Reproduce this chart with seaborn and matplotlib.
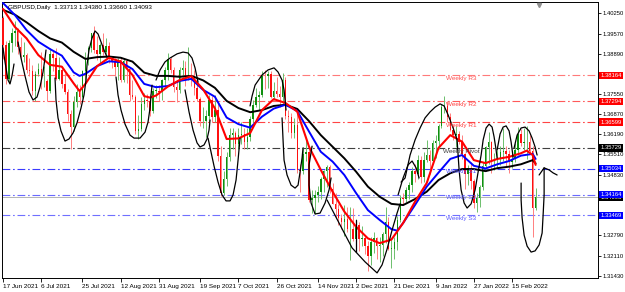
import numpy as np
import pandas as pd
import matplotlib
matplotlib.use("Agg")
import matplotlib.pyplot as plt
import matplotlib.transforms as mtransforms
import seaborn as sns

# ---------------- data ----------------
title_text = "GBPUSD,Daily  1.33713 1.34380 1.33660 1.34093"
dates = pd.bdate_range("2021-06-17", "2022-02-25")

opens = [1.4010, 1.3918, 1.3803, 1.3925, 1.3960, 1.3965, 1.3912, 1.3878, 1.3885, 1.3834,
         1.3830, 1.3763, 1.3822, 1.3837, 1.3797, 1.3799, 1.3765, 1.3890, 1.3875, 1.3805,
         1.3834, 1.3789, 1.3760, 1.3687, 1.3642, 1.3728, 1.3762, 1.3745, 1.3832, 1.3869,
         1.3910, 1.3958, 1.3903, 1.3889, 1.3918, 1.3896, 1.3916, 1.3873, 1.3863, 1.3845,
         1.3868, 1.3800, 1.3866, 1.3837, 1.3752, 1.3743, 1.3630, 1.3636, 1.3722, 1.3735,
         1.3731, 1.3696, 1.3763, 1.3763, 1.3760, 1.3801, 1.3836, 1.3871, 1.3836, 1.3777,
         1.3766, 1.3836, 1.3842, 1.3814, 1.3818, 1.3804, 1.3775, 1.3738, 1.3663, 1.3665,
         1.3680, 1.3733, 1.3677, 1.3700, 1.3547, 1.3420, 1.3470, 1.3542, 1.3616, 1.3622,
         1.3587, 1.3615, 1.3619, 1.3593, 1.3610, 1.3670, 1.3718, 1.3743, 1.3750, 1.3815,
         1.3814, 1.3820, 1.3745, 1.3764, 1.3753, 1.3744, 1.3802, 1.3681, 1.3678, 1.3624,
         1.3650, 1.3498, 1.3495, 1.3552, 1.3560, 1.3399, 1.3405, 1.3415, 1.3425, 1.3467,
         1.3494, 1.3509, 1.3435, 1.3386, 1.3367, 1.3339, 1.3323, 1.3335, 1.3299, 1.3299,
         1.3267, 1.3313, 1.3266, 1.3271, 1.3242, 1.3209, 1.3258, 1.3269, 1.3243, 1.3246,
         1.3284, 1.3325, 1.3233, 1.3233, 1.3258, 1.3330, 1.3406, 1.3402, 1.3430, 1.3450,
         1.3497, 1.3485, 1.3532, 1.3475, 1.3533, 1.3550, 1.3530, 1.3590, 1.3597, 1.3648,
         1.3711, 1.3715, 1.3677, 1.3634, 1.3618, 1.3620, 1.3594, 1.3553, 1.3485, 1.3504,
         1.3463, 1.3387, 1.3405, 1.3443, 1.3512, 1.3577, 1.3592, 1.3530, 1.3532, 1.3538,
         1.3559, 1.3563, 1.3554, 1.3527, 1.3537, 1.3565, 1.3621, 1.3590, 1.3593, 1.3594,
         1.3564, 1.33713]
highs = [1.4015, 1.3932, 1.3935, 1.3975, 1.4000, 1.3976, 1.3945, 1.3928, 1.3891, 1.3875,
         1.3850, 1.3830, 1.3860, 1.3895, 1.3848, 1.3804, 1.3908, 1.3898, 1.3910, 1.3878,
         1.3840, 1.3825, 1.3772, 1.3700, 1.3748, 1.3788, 1.3784, 1.3835, 1.3895, 1.3915,
         1.3960, 1.3983, 1.3950, 1.3926, 1.3958, 1.3944, 1.3928, 1.3883, 1.3875, 1.3875,
         1.3878, 1.3875, 1.3868, 1.3840, 1.3800, 1.3752, 1.3685, 1.3745, 1.3758, 1.3755,
         1.3755, 1.3775, 1.3785, 1.3785, 1.3805, 1.3845, 1.3891, 1.3880, 1.3845, 1.3800,
         1.3845, 1.3867, 1.3865, 1.3913, 1.3858, 1.3835, 1.3790, 1.3745, 1.3710, 1.3700,
         1.3750, 1.3748, 1.3750, 1.3725, 1.3580, 1.3495, 1.3560, 1.3640, 1.3640, 1.3630,
         1.3640, 1.3660, 1.3640, 1.3640, 1.3680, 1.3735, 1.3775, 1.3765, 1.3830, 1.3834,
         1.3830, 1.3830, 1.3795, 1.3810, 1.3780, 1.3825, 1.3810, 1.3700, 1.3690, 1.3675,
         1.3695, 1.3520, 1.3575, 1.3607, 1.3575, 1.3430, 1.3430, 1.3445, 1.3475, 1.3500,
         1.3515, 1.3515, 1.3455, 1.3420, 1.3385, 1.3350, 1.3380, 1.3375, 1.3375, 1.3370,
         1.3335, 1.3325, 1.3310, 1.3282, 1.3260, 1.3275, 1.3290, 1.3275, 1.3275, 1.3290,
         1.3375, 1.3340, 1.3270, 1.3275, 1.3345, 1.3415, 1.3420, 1.3440, 1.3460, 1.3510,
         1.3520, 1.3550, 1.3545, 1.3560, 1.3600, 1.3565, 1.3600, 1.3615, 1.3655, 1.3720,
         1.3749, 1.3730, 1.3690, 1.3650, 1.3645, 1.3630, 1.3615, 1.3555, 1.3515, 1.3525,
         1.3470, 1.3420, 1.3450, 1.3525, 1.3580, 1.3628, 1.3595, 1.3557, 1.3565, 1.3580,
         1.3640, 1.3580, 1.3565, 1.3555, 1.3590, 1.3644, 1.3635, 1.3640, 1.3645, 1.3615,
         1.3580, 1.34380]
lows = [1.3871, 1.3787, 1.3792, 1.3895, 1.3915, 1.3888, 1.3873, 1.3862, 1.3825, 1.3813,
        1.3750, 1.3731, 1.3815, 1.3770, 1.3778, 1.3730, 1.3757, 1.3830, 1.3800, 1.3800,
        1.3775, 1.3754, 1.3662, 1.3571, 1.3630, 1.3710, 1.3720, 1.3740, 1.3800, 1.3850,
        1.3895, 1.3893, 1.3870, 1.3860, 1.3885, 1.3880, 1.3860, 1.3842, 1.3814, 1.3802,
        1.3795, 1.3793, 1.3790, 1.3730, 1.3737, 1.3620, 1.3602, 1.3630, 1.3700, 1.3710,
        1.3680, 1.3690, 1.3740, 1.3730, 1.3735, 1.3780, 1.3800, 1.3825, 1.3760, 1.3727,
        1.3756, 1.3810, 1.3780, 1.3800, 1.3780, 1.3750, 1.3730, 1.3647, 1.3640, 1.3610,
        1.3660, 1.3660, 1.3660, 1.3530, 1.3412, 1.3415, 1.3445, 1.3530, 1.3570, 1.3545,
        1.3570, 1.3585, 1.3570, 1.3570, 1.3595, 1.3660, 1.3710, 1.3700, 1.3745, 1.3770,
        1.3775, 1.3740, 1.3735, 1.3745, 1.3710, 1.3720, 1.3670, 1.3625, 1.3605, 1.3605,
        1.3490, 1.3424, 1.3485, 1.3530, 1.3390, 1.3355, 1.3352, 1.3390, 1.3400, 1.3425,
        1.3440, 1.3420, 1.3385, 1.3342, 1.3315, 1.3300, 1.3278, 1.3290, 1.3195, 1.3260,
        1.3255, 1.3225, 1.3245, 1.3215, 1.3160, 1.3180, 1.3220, 1.3200, 1.3190, 1.3210,
        1.3255, 1.3230, 1.3170, 1.3200, 1.3230, 1.3325, 1.3385, 1.3390, 1.3400, 1.3425,
        1.3460, 1.3470, 1.3455, 1.3460, 1.3525, 1.3485, 1.3520, 1.3540, 1.3570, 1.3640,
        1.3690, 1.3660, 1.3630, 1.3600, 1.3575, 1.3585, 1.3535, 1.3435, 1.3450, 1.3435,
        1.3370, 1.3358, 1.3375, 1.3430, 1.3495, 1.3520, 1.3490, 1.3500, 1.3510, 1.3515,
        1.3530, 1.3510, 1.3490, 1.3505, 1.3525, 1.3550, 1.3580, 1.3565, 1.3535, 1.3560,
        1.3272, 1.33660]
closes = [1.3920, 1.3803, 1.3925, 1.3960, 1.3965, 1.3912, 1.3878, 1.3885, 1.3834, 1.3830,
          1.3763, 1.3822, 1.3837, 1.3797, 1.3799, 1.3765, 1.3890, 1.3875, 1.3805, 1.3834,
          1.3789, 1.3760, 1.3687, 1.3642, 1.3728, 1.3762, 1.3745, 1.3832, 1.3869, 1.3910,
          1.3958, 1.3903, 1.3889, 1.3918, 1.3896, 1.3916, 1.3873, 1.3863, 1.3845, 1.3868,
          1.3800, 1.3866, 1.3837, 1.3752, 1.3743, 1.3630, 1.3636, 1.3722, 1.3735, 1.3731,
          1.3696, 1.3763, 1.3766, 1.3760, 1.3801, 1.3836, 1.3871, 1.3836, 1.3777, 1.3766,
          1.3836, 1.3842, 1.3814, 1.3818, 1.3804, 1.3775, 1.3738, 1.3663, 1.3665, 1.3680,
          1.3733, 1.3677, 1.3700, 1.3547, 1.3420, 1.3470, 1.3542, 1.3616, 1.3622, 1.3587,
          1.3615, 1.3619, 1.3593, 1.3610, 1.3670, 1.3718, 1.3743, 1.3750, 1.3815, 1.3814,
          1.3820, 1.3745, 1.3764, 1.3753, 1.3744, 1.3802, 1.3681, 1.3678, 1.3624, 1.3650,
          1.3498, 1.3495, 1.3552, 1.3560, 1.3399, 1.3405, 1.3415, 1.3425, 1.3467, 1.3494,
          1.3509, 1.3435, 1.3386, 1.3367, 1.3339, 1.3323, 1.3335, 1.3299, 1.3302, 1.3267,
          1.3313, 1.3266, 1.3271, 1.3242, 1.3209, 1.3258, 1.3269, 1.3243, 1.3246, 1.3284,
          1.3325, 1.3233, 1.3236, 1.3258, 1.3330, 1.3406, 1.3402, 1.3430, 1.3450, 1.3497,
          1.3485, 1.3532, 1.3475, 1.3533, 1.3550, 1.3530, 1.3590, 1.3597, 1.3648, 1.3711,
          1.3715, 1.3677, 1.3634, 1.3618, 1.3620, 1.3594, 1.3553, 1.3485, 1.3504, 1.3463,
          1.3387, 1.3405, 1.3443, 1.3512, 1.3577, 1.3592, 1.3530, 1.3532, 1.3538, 1.3559,
          1.3563, 1.3554, 1.3527, 1.3537, 1.3565, 1.3621, 1.3590, 1.3593, 1.3594, 1.3564,
          1.3371, 1.34093]

# moving averages (bar index, value)
fast_ma_idx = [0, 4, 8, 12, 16, 20, 24, 26, 28, 32, 36, 40, 44, 48, 50, 52, 56, 60, 64, 68, 72, 76, 80, 84,
               88, 92, 96, 100, 104, 108, 112, 116, 120, 124, 128, 132, 136, 140, 144, 148, 152, 156, 160,
               164, 168, 172, 176, 178, 180, 181]
fast_ma = [1.4040, 1.3980, 1.3941, 1.3885, 1.3852, 1.3846, 1.3790, 1.3764, 1.3788, 1.3848, 1.3876, 1.3863,
           1.3818, 1.3747, 1.3742, 1.3749, 1.3779, 1.3801, 1.3814, 1.3770, 1.3706, 1.3603, 1.3605, 1.3623,
           1.3700, 1.3737, 1.3724, 1.3695, 1.3577, 1.3499, 1.3426, 1.3359, 1.3308, 1.3269, 1.3253, 1.3265,
           1.3321, 1.3392, 1.3455, 1.3573, 1.3616, 1.3594, 1.3532, 1.3522, 1.3536, 1.3543, 1.3555, 1.3564,
           1.3549, 1.3516]
mid_ma_idx = [0, 4, 8, 12, 16, 20, 24, 26, 28, 32, 36, 40, 44, 48, 52, 56, 60, 64, 68, 72, 76, 80, 84, 88,
              92, 96, 100, 104, 108, 112, 116, 120, 124, 128, 132, 134, 136, 140, 144, 148, 152, 156, 160,
              164, 168, 172, 176, 180, 181]
mid_ma = [1.4060, 1.4020, 1.3969, 1.3930, 1.3905, 1.3883, 1.3827, 1.3815, 1.3822, 1.3848, 1.3864, 1.3861,
          1.3838, 1.3788, 1.3777, 1.3781, 1.3798, 1.3805, 1.3768, 1.3745, 1.3675, 1.3653, 1.3641, 1.3678,
          1.3705, 1.3718, 1.3697, 1.3628, 1.3560, 1.3527, 1.3482, 1.3421, 1.3364, 1.3331, 1.3300, 1.3295,
          1.3321, 1.3381, 1.3443, 1.3490, 1.3536, 1.3549, 1.3513, 1.3504, 1.3518, 1.3529, 1.3547, 1.3553,
          1.3536]
slow_ma_idx = [0, 4, 8, 12, 16, 20, 24, 28, 32, 36, 40, 44, 48, 52, 56, 60, 64, 68, 72, 76, 80, 84, 88, 92,
               96, 100, 104, 108, 112, 116, 120, 124, 128, 132, 136, 140, 144, 148, 152, 156, 160, 164, 168,
               172, 176, 180, 181]
slow_ma = [1.4037, 1.4021, 1.3995, 1.3966, 1.3941, 1.3927, 1.3896, 1.3872, 1.3878, 1.3880, 1.3876, 1.3863,
           1.3826, 1.3815, 1.3815, 1.3812, 1.3815, 1.3800, 1.3775, 1.3731, 1.3707, 1.3693, 1.3700, 1.3714,
           1.3718, 1.3704, 1.3663, 1.3616, 1.3577, 1.3538, 1.3493, 1.3443, 1.3409, 1.3385, 1.3381, 1.3401,
           1.3426, 1.3465, 1.3488, 1.3502, 1.3502, 1.3495, 1.3505, 1.3510, 1.3518, 1.3532, 1.3521]

tick_labels = ["17 Jun 2021", "6 Jul 2021", "25 Jul 2021", "12 Aug 2021", "31 Aug 2021",
               "19 Sep 2021", "7 Oct 2021", "26 Oct 2021", "14 Nov 2021", "2 Dec 2021",
               "21 Dec 2021", "9 Jan 2022", "27 Jan 2022", "15 Feb 2022"]
price_ticks = [1.40250, 1.39570, 1.38890, 1.37550, 1.36870, 1.36190, 1.35510, 1.34830,
               1.32790, 1.32110, 1.31430]

pivot_names = ["Weekly R3", "Weekly R2", "Weekly R1", "Weekly Pivot", "Weekly S1", "Weekly S2", "Weekly S3"]
pivot_values = [1.38164, 1.37294, 1.36599, 1.35729, 1.35034, 1.34164, 1.33469]
last_price = 1.34093

# hand-drawn annotation strokes: (bar index, price)
stroke_jun_a = [(0.0, 1.3909), (0.68, 1.3862), (1.7, 1.3801), (2.38, 1.3788), (3.06, 1.3815), (3.74, 1.3855)]
stroke_jun_b = [(5.1, 1.3929), (6.12, 1.3875), (7.48, 1.3815), (8.84, 1.3761), (10.2, 1.3734), (11.56, 1.3744),
                (12.58, 1.3778), (13.6, 1.3828), (14.28, 1.3875), (14.62, 1.3902)]
stroke_jul = [(17.68, 1.3808), (18.01, 1.3734), (18.69, 1.3674), (19.71, 1.3630), (21.07, 1.3596), (22.43, 1.3603),
              (23.79, 1.3623), (25.15, 1.3657), (26.51, 1.3707), (27.53, 1.3751), (28.21, 1.3801), (28.55, 1.3852),
              (29.23, 1.3902), (30.25, 1.3942), (31.27, 1.3966), (32.29, 1.3956), (33.31, 1.3929), (34.33, 1.3902),
              (35.35, 1.3878)]
stroke_aug = [(38.41, 1.3811), (39.09, 1.3751), (40.11, 1.3700), (41.47, 1.3653), (43.17, 1.3616), (44.53, 1.3606),
              (46.57, 1.3606), (48.27, 1.3626), (49.29, 1.3660), (49.97, 1.3707), (50.31, 1.3751), (50.65, 1.3784)]
stroke_sep_top = [(52.0, 1.3801), (53.37, 1.3835), (55.06, 1.3862), (56.76, 1.3875), (59.14, 1.3889), (61.18, 1.3895),
                  (62.88, 1.3892), (64.24, 1.3875), (65.26, 1.3842), (66.28, 1.3794)]
stroke_sep_loop = [(61.86, 1.3768), (63.22, 1.3694), (64.58, 1.3633), (65.94, 1.3590), (66.96, 1.3576), (68.32, 1.3583),
                   (69.34, 1.3603), (70.02, 1.3633), (70.36, 1.3667)]
stroke_sep_low = [(69.68, 1.3606), (70.7, 1.3559), (71.72, 1.3512), (73.08, 1.3458), (74.44, 1.3415), (75.8, 1.3395),
                  (77.16, 1.3395), (78.18, 1.3415), (79.2, 1.3465), (79.88, 1.3532), (80.56, 1.3606)]
stroke_oct = [(83.96, 1.3714), (84.64, 1.3747), (85.66, 1.3784), (88.03, 1.3818), (90.07, 1.3835), (92.11, 1.3842),
              (93.47, 1.3828), (94.83, 1.3801), (95.51, 1.3768), (95.85, 1.3734), (96.19, 1.3700)]
stroke_nov_a = [(94.83, 1.3674), (95.17, 1.3600), (95.51, 1.3532), (96.53, 1.3482), (97.89, 1.3448), (99.25, 1.3438),
                (100.27, 1.3448), (100.95, 1.3492), (101.63, 1.3539), (101.97, 1.3573)]
stroke_nov_b = [(105.03, 1.3579), (104.01, 1.3516), (104.01, 1.3448), (104.69, 1.3388), (106.05, 1.3351),
                (107.75, 1.3354), (109.45, 1.3388), (110.81, 1.3432), (111.49, 1.3472)]
stroke_dec = [(110.13, 1.3398), (114.55, 1.3314), (118.63, 1.3237), (123.05, 1.3190), (127.12, 1.3153),
              (128.82, 1.3180), (130.52, 1.3233), (132.22, 1.3297), (133.92, 1.3354), (134.94, 1.3385)]
stroke_dec_tick = [(119.99, 1.3331), (119.99, 1.3223)]
stroke_jan_a = [(134.26, 1.3415), (135.96, 1.3472), (137.66, 1.3516), (139.02, 1.3529), (140.38, 1.3506), (141.4, 1.3472)]
stroke_jan_b = [(135.28, 1.3458), (136.64, 1.3472), (138.34, 1.3549), (140.04, 1.3600), (141.74, 1.3640),
                (143.44, 1.3674), (145.14, 1.3694), (146.84, 1.3710), (148.54, 1.3721), (149.9, 1.3714),
                (151.26, 1.3684), (152.96, 1.3640), (154.32, 1.3600), (154.66, 1.3549), (155.0, 1.3499),
                (155.68, 1.3432), (156.7, 1.3388), (157.72, 1.3371), (159.08, 1.3385), (160.44, 1.3432),
                (161.46, 1.3492), (162.48, 1.3549), (163.17, 1.3600), (164.17, 1.3640), (165.19, 1.3653),
                (166.21, 1.3643), (166.89, 1.3610), (167.57, 1.3566), (167.91, 1.3539)]
stroke_feb_a = [(167.91, 1.3566), (168.93, 1.3620), (169.95, 1.3643), (170.97, 1.3647), (171.99, 1.3630),
                (172.67, 1.3593), (173.35, 1.3542)]
stroke_feb_b = [(173.69, 1.3573), (174.71, 1.3616), (176.07, 1.3640), (177.43, 1.3643), (178.79, 1.3630),
                (179.81, 1.3606), (180.83, 1.3576), (181.51, 1.3549)]
stroke_feb_u = [(176.07, 1.3455), (176.07, 1.3398), (176.41, 1.3338), (177.09, 1.3280), (178.11, 1.3243),
                (179.47, 1.3223), (180.83, 1.3227), (182.19, 1.3247), (183.21, 1.3287), (183.55, 1.3348),
                (183.89, 1.3415), (183.89, 1.3472), (183.89, 1.3506)]
stroke_arrow = [(182.19, 1.3482), (183.89, 1.3506), (185.59, 1.3499), (186.95, 1.3489), (188.31, 1.3482)]

strokes = [stroke_jun_a, stroke_jun_b, stroke_jul, stroke_aug, stroke_sep_top, stroke_sep_loop,
           stroke_sep_low, stroke_oct, stroke_nov_a, stroke_nov_b, stroke_dec, stroke_dec_tick,
           stroke_jan_a, stroke_jan_b, stroke_feb_a, stroke_feb_b, stroke_feb_u, stroke_arrow]

# ---------------- style ----------------
sns.set_style("white")
plt.rcParams['font.family'] = ['Liberation Sans', 'DejaVu Sans']
FS = 4.6
FS_AX = 4.2

pivot_line_colors = ['#ff7a7a', '#ff5a5a', '#ff4444', '#404040', '#3a3aff', '#6a6aff', '#7070ff']
pivot_text_colors = ['#ff5050', '#ff4040', '#ff4040', '#404040', '#4a4aff', '#5a5aff', '#5a5aff']
pivot_box_colors = ['#ff0000', '#ff0000', '#ff0000', '#000000', '#0000ff', '#0000ff', '#0000ff']

fig = plt.figure(figsize=(6.25, 2.92), dpi=100)
fig.patch.set_facecolor('white')
ax = fig.add_axes([2 / 625, 14 / 292, 596 / 625, 276 / 292])
ax.set_facecolor('white')

n = len(dates)
idx = np.arange(n)
o = np.array(opens); h = np.array(highs); l = np.array(lows); c = np.array(closes)
up = c >= o

# pivot levels
dash = (0, (7, 2.5, 1.5, 2.5))
for v, col in zip(pivot_values, pivot_line_colors):
    ax.axhline(v, color=col, lw=0.8, ls=dash, zorder=1)
ax.axhline(last_price, color='#b4b4b4', lw=0.7, zorder=1)

# candles
ax.vlines(idx[up], l[up], h[up], color='#6cbf6c', lw=0.7, zorder=2)
ax.vlines(idx[~up], l[~up], h[~up], color='#ff7f7f', lw=0.7, zorder=2)
ax.bar(idx[up], np.maximum(c[up] - o[up], 0.00012), bottom=o[up], width=0.5,
       color='#0f8f0f', linewidth=0, zorder=3)
ax.bar(idx[~up], np.maximum(o[~up] - c[~up], 0.00012), bottom=c[~up], width=0.5,
       color='#ff1010', linewidth=0, zorder=3)

# moving averages
sns.lineplot(x=slow_ma_idx, y=slow_ma, color='black', lw=1.4, ax=ax, estimator=None,
             sort=False, legend=False, zorder=4)
sns.lineplot(x=mid_ma_idx, y=mid_ma, color='#0000ff', lw=1.4, ax=ax, estimator=None,
             sort=False, legend=False, zorder=5)
sns.lineplot(x=fast_ma_idx, y=fast_ma, color='#ff0000', lw=1.5, ax=ax, estimator=None,
             sort=False, legend=False, zorder=6)

# hand-drawn strokes
for s in strokes:
    xs, ys = zip(*s)
    sns.lineplot(x=list(xs), y=list(ys), color='black', lw=0.9, ax=ax, estimator=None,
                 sort=False, legend=False, zorder=7)

# pivot labels
for name, v, col in zip(pivot_names, pivot_values, pivot_text_colors):
    xpos = 149.6 if name == "Weekly Pivot" else 150.6
    ax.text(xpos, v - 0.00025, name, color=col, fontsize=FS, va='top', ha='left', zorder=8)

# axes limits
ax.set_xlim(-0.34, 202.2)
ax.set_ylim(1.31359, 1.40633)

# x ticks
tick_pos = np.searchsorted(dates.values, pd.to_datetime(tick_labels, format="%d %b %Y").values)
ax.set_xticks(tick_pos)
ax.set_xticklabels(tick_labels, ha='left')
ax.tick_params(axis='x', direction='out', length=3, width=0.6, pad=1.5, labelsize=FS, colors='black',
               bottom=True)

# y ticks on the right
ax.yaxis.tick_right()
ax.set_yticks(price_ticks)
ax.set_yticklabels([f"{t:.5f}" for t in price_ticks])
ax.tick_params(axis='y', direction='out', length=2, width=0.6, pad=1.2, labelsize=FS_AX, colors='black',
               right=True, left=False)

for sp in ax.spines.values():
    sp.set_color('black')
    sp.set_linewidth(0.7)
    sp.set_visible(True)

# price boxes on the right axis
trans = mtransforms.blended_transform_factory(ax.transAxes, ax.transData)
ax.text(1.004, last_price - 0.0002, f"{last_price:.5f}", transform=trans, fontsize=FS_AX, color='white',
        va='center', ha='left', clip_on=False, zorder=9,
        bbox=dict(boxstyle='square,pad=0.2', fc='black', ec='none'))
for v, col in zip(pivot_values, pivot_box_colors):
    ax.text(1.004, v, f"{v:.5f}", transform=trans, fontsize=FS_AX, color='white',
            va='center', ha='left', clip_on=False, zorder=10,
            bbox=dict(boxstyle='square,pad=0.2', fc=col, ec='none'))

# title text and shift marker
ax.text(0.01, 0.989, title_text, transform=ax.transAxes, fontsize=FS, color='black',
        va='top', ha='left', zorder=11)
top_trans = mtransforms.blended_transform_factory(ax.transData, ax.transAxes)
ax.plot([n], [0.99], marker='v', ms=3, color='#909090', transform=top_trans, clip_on=False, zorder=11)

fig.savefig("out.png", dpi=100, facecolor='white')
